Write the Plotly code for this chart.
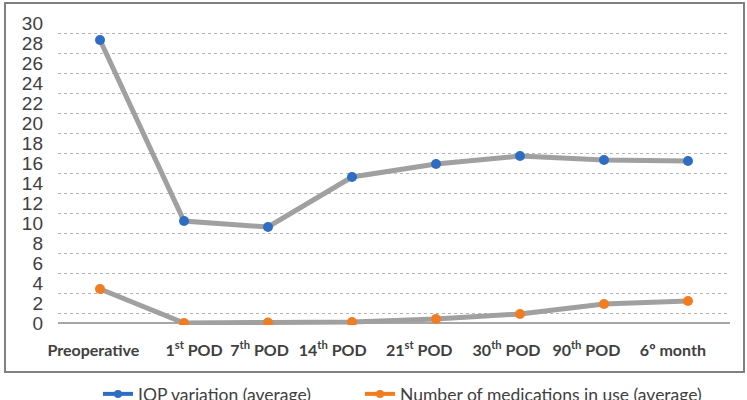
import plotly.graph_objects as go

categories = ["Preoperative", "1<sup>st</sup> POD", "7<sup>th</sup> POD", "14<sup>th</sup> POD",
              "21<sup>st</sup> POD", "30<sup>th</sup> POD", "90<sup>th</sup> POD", "6º month"]
iop = [28.3, 10.2, 9.6, 14.6, 15.9, 16.7, 16.3, 16.2]
meds = [3.4, 0.0, 0.05, 0.1, 0.4, 0.9, 1.9, 2.2]
ytick_vals = list(range(0, 31, 2))
grid_vals = list(range(1, 30, 2))
# horizontal nudges of the category labels (in category units), as in the source picture
label_shift = [-0.08, 0.12, -0.10, -0.23, -0.20, -0.16, -0.21, -0.18]

BLUE = "#2E6DC2"
ORANGE = "#F27D21"
LINE = "#A0A0A0"
TXT = "#404040"

fig = go.Figure()
x = list(range(len(categories)))
fig.add_trace(go.Scatter(x=x, y=iop, mode="lines+markers", showlegend=False,
                         line=dict(color=LINE, width=5),
                         marker=dict(color=BLUE, size=10)))
fig.add_trace(go.Scatter(x=x, y=meds, mode="lines+markers", showlegend=False,
                         line=dict(color=LINE, width=5),
                         marker=dict(color=ORANGE, size=10)))
fig.add_trace(go.Scatter(x=[None], y=[None], mode="lines+markers",
                         name="IOP variation (average)", legend="legend",
                         line=dict(color=BLUE, width=4), marker=dict(color=BLUE, size=8)))
fig.add_trace(go.Scatter(x=[None], y=[None], mode="lines+markers",
                         name="Number of medications in use (average)", legend="legend2",
                         line=dict(color=ORANGE, width=4), marker=dict(color=ORANGE, size=8)))

W, H = 747, 400
PLOT_L, PLOT_R, PLOT_T, PLOT_B = 58, 730, 18, 325
PW, PH = PLOT_R - PLOT_L, PLOT_B - PLOT_T

def px_x(p):
    return (p - PLOT_L) / PW

def px_y(p):
    return (PLOT_B - p) / PH

legend_font = dict(family="Lato", size=17.5, color=TXT)

fig.update_layout(
    width=W, height=H,
    margin=dict(l=PLOT_L, r=W - PLOT_R, t=PLOT_T, b=H - PLOT_B, autoexpand=False),
    paper_bgcolor="white", plot_bgcolor="white",
    xaxis=dict(range=[-0.5, 7.5], tickmode="array",
               tickvals=[i + s for i, s in zip(x, label_shift)], ticktext=categories,
               showgrid=False, zeroline=False, showline=False, automargin=False,
               tickfont=dict(family="Lato", size=16, color=TXT, weight="bold"),
               ticklabelstandoff=14),
    yaxis=dict(range=[-0.2, 30.5], tickmode="array", tickvals=ytick_vals,
               showgrid=False, zeroline=True, zerolinecolor="#A6A6A6", zerolinewidth=2,
               automargin=False,
               tickfont=dict(family="Liberation Sans", size=19, color=TXT),
               ticklabelstandoff=14,
               minor=dict(tickmode="array", tickvals=grid_vals, showgrid=True,
                          gridcolor="#B5B5B5", griddash="dot", gridwidth=1, ticks="")),
    legend=dict(orientation="h", xref="container", yref="container",
                x=98 / W, xanchor="left", y=(H - 394) / H, yanchor="middle",
                font=legend_font, bgcolor="rgba(0,0,0,0)"),
    legend2=dict(orientation="h", xref="container", yref="container",
                 x=360 / W, xanchor="left", y=(H - 394) / H, yanchor="middle",
                 font=legend_font, bgcolor="rgba(0,0,0,0)"),
    shapes=[dict(type="rect", xref="paper", yref="paper",
                 x0=px_x(5), x1=px_x(744), y0=px_y(372), y1=px_y(3),
                 line=dict(color="#808080", width=2), fillcolor="rgba(0,0,0,0)", layer="below")],
)

fig.write_html("out.html")
